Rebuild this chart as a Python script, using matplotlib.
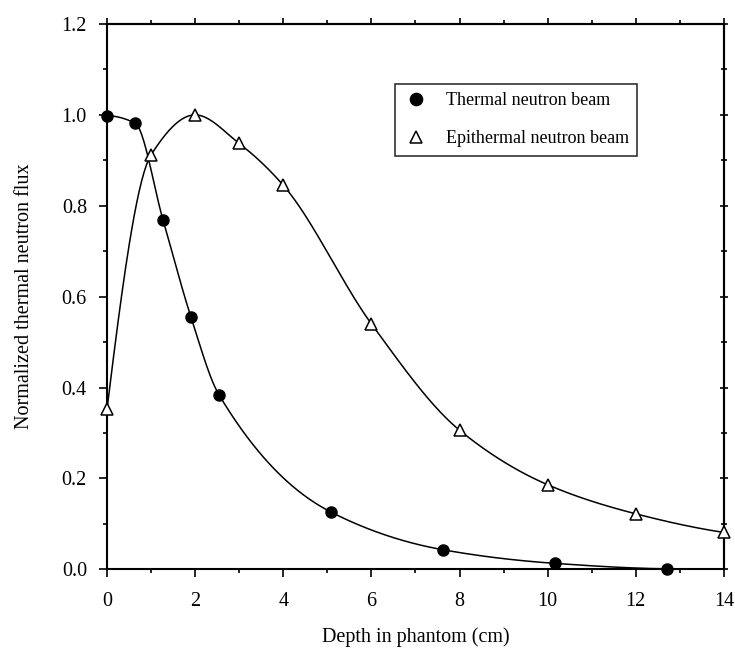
import numpy as np
import matplotlib
matplotlib.use("Agg")
import matplotlib.pyplot as plt
from matplotlib.ticker import MultipleLocator, FormatStrFormatter

# depth (cm) and normalized flux for the two beams
thermal_depth = [0, 0.635, 1.27, 1.905, 2.54, 5.08, 7.62, 10.16, 12.7]
thermal_flux = [0.998, 0.982, 0.769, 0.555, 0.384, 0.126, 0.043, 0.013, 0.001]

epi_depth = [0, 1, 2, 3, 4, 6, 8, 10, 12, 14]
epi_flux = [0.352, 0.912, 1.0, 0.937, 0.845, 0.540, 0.306, 0.186, 0.122, 0.081]


def pchip(x, y, xs):
    # monotone cubic (Fritsch-Carlson), keeps the curve from overshooting
    x = np.asarray(x, float)
    y = np.asarray(y, float)
    h = np.diff(x)
    m = np.diff(y) / h
    n = len(x)
    d = np.zeros(n)
    for k in range(1, n - 1):
        if m[k - 1] * m[k] > 0:
            w1 = 2 * h[k] + h[k - 1]
            w2 = h[k] + 2 * h[k - 1]
            d[k] = (w1 + w2) / (w1 / m[k - 1] + w2 / m[k])

    def end(h0, h1, m0, m1):
        dd = ((2 * h0 + h1) * m0 - h0 * m1) / (h0 + h1)
        if np.sign(dd) != np.sign(m0):
            return 0.0
        if np.sign(m0) != np.sign(m1) and abs(dd) > 3 * abs(m0):
            return 3 * m0
        return dd

    d[0] = end(h[0], h[1], m[0], m[1])
    d[-1] = end(h[-1], h[-2], m[-1], m[-2])

    i = np.clip(np.searchsorted(x, xs) - 1, 0, n - 2)
    t = (xs - x[i]) / h[i]
    h00 = 2 * t**3 - 3 * t**2 + 1
    h10 = t**3 - 2 * t**2 + t
    h01 = -2 * t**3 + 3 * t**2
    h11 = t**3 - t**2
    return h00 * y[i] + h10 * h[i] * d[i] + h01 * y[i + 1] + h11 * h[i] * d[i + 1]


plt.rcParams["font.family"] = ["Liberation Serif", "DejaVu Serif"]

fig = plt.figure(figsize=(7.35, 6.5), dpi=100)
ax = fig.add_axes([0.1456, 0.1242, 0.8394, 0.8389])

xs = np.linspace(0, thermal_depth[-1], 500)
ax.plot(xs, pchip(thermal_depth, thermal_flux, xs), color="black", lw=1.1, zorder=2)
xs = np.linspace(0, epi_depth[-1], 500)
ax.plot(xs, pchip(epi_depth, epi_flux, xs), color="black", lw=1.1, zorder=2)

ax.plot(thermal_depth, thermal_flux, "o", ms=8, color="black", ls="none",
        label="Thermal neutron beam", clip_on=False, zorder=3)
ax.plot(epi_depth, epi_flux, "^", ms=8.5, mfc="white", mec="black", mew=1.1, ls="none",
        label="Epithermal neutron beam", clip_on=False, zorder=3)

ax.set_xlim(0, 14)
ax.set_ylim(0, 1.2)
ax.xaxis.set_major_locator(MultipleLocator(2))
ax.xaxis.set_minor_locator(MultipleLocator(1))
ax.yaxis.set_major_locator(MultipleLocator(0.2))
ax.yaxis.set_minor_locator(MultipleLocator(0.1))
ax.yaxis.set_major_formatter(FormatStrFormatter("%.1f"))

for s in ax.spines.values():
    s.set_linewidth(1.5)

ax.tick_params(which="both", direction="out", width=1.2, labelsize=14.5,
               top=False, right=False)
ax.tick_params(axis="x", which="major", length=5.5, pad=11)
ax.tick_params(axis="x", which="minor", length=3)
ax.tick_params(axis="y", which="major", length=6, pad=8.5)
ax.tick_params(axis="y", which="minor", length=3)

# top and right frame ticks
top = ax.secondary_xaxis("top")
top.xaxis.set_major_locator(MultipleLocator(2))
top.xaxis.set_minor_locator(MultipleLocator(1))
top.tick_params(which="both", direction="out", width=1.2, labeltop=False)
top.tick_params(which="major", length=4.5)
top.tick_params(which="minor", length=3)
top.spines["top"].set_linewidth(1.5)

right = ax.secondary_yaxis("right")
right.yaxis.set_major_locator(MultipleLocator(0.2))
right.yaxis.set_minor_locator(MultipleLocator(0.1))
right.tick_params(which="both", direction="inout", width=1.2, labelright=False)
right.tick_params(which="major", length=6)
right.tick_params(which="minor", length=4)
right.spines["right"].set_linewidth(1.5)

ax.set_xlabel("Depth in phantom (cm)", fontsize=14.5)
ax.set_ylabel("Normalized thermal neutron flux", fontsize=14.5)
ax.xaxis.set_label_coords(0.5, -0.106)
ax.yaxis.set_label_coords(-0.118, 0.5)

leg = ax.legend(loc="upper left", bbox_to_anchor=(0.467, 0.89), borderaxespad=0,
                fontsize=13, frameon=True, fancybox=False, edgecolor="black",
                handlelength=1.45, handletextpad=0.9, borderpad=0.45, labelspacing=1.18,
                markerscale=1.1)
leg.get_frame().set_linewidth(1.2)

fig.savefig("out.png", dpi=100)
